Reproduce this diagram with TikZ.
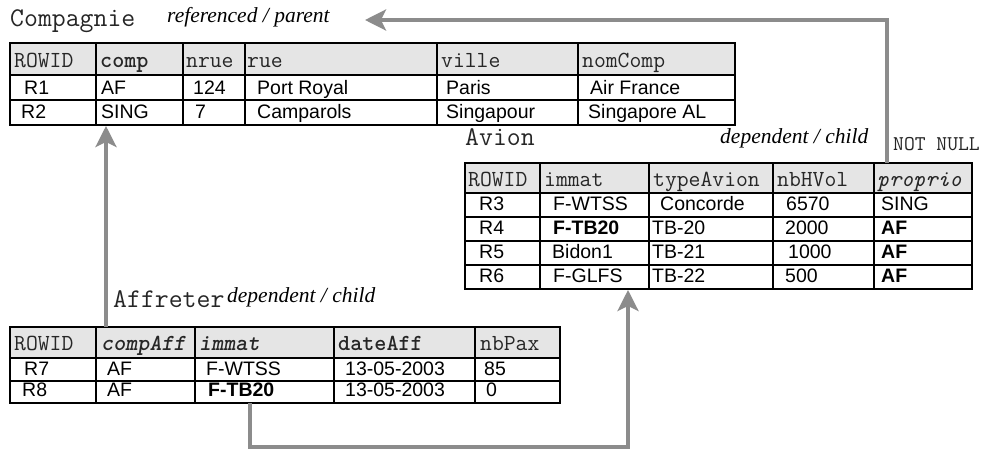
\documentclass[tikz,border=0pt]{standalone}
\usepackage{fontspec}
\setmainfont{Liberation Sans}
\newfontfamily\rolefont{Liberation Serif}
\usetikzlibrary{arrows.meta}
\definecolor{hdgray}{gray}{0.9}
\definecolor{linkgray}{gray}{0.55}
\tikzset{
  hd/.style={anchor=base west, inner sep=0pt, text=black!85, font=\fontsize{23}{24}\ttfamily},
  dat/.style={anchor=base west, inner sep=0pt, font=\fontsize{19.5}{20}\selectfont},
  ttl/.style={anchor=base west, inner sep=0pt, text=black!85, font=\fontsize{27}{28}\ttfamily},
  role/.style={anchor=base west, inner sep=0pt, font=\fontsize{21.5}{24}\rolefont\itshape},
  tab/.style={line width=1.4pt},
  link/.style={draw=linkgray, line width=3.5pt, -{Stealth[length=21pt,width=21pt,inset=5pt]}}
}
\begin{document}
\begin{tikzpicture}[x=1pt,y=-1pt]
				\fill[white] (0,0) rectangle (990,450);
				\useasboundingbox (0,0) rectangle (990,450);
				
				% Compagnie
				\fill[hdgray] (10,43) rectangle (735,75);
				\draw[tab] (10,43) rectangle (735,125);
				\draw[tab] (10,75) -- (735,75);
				\draw[tab] (10,100) -- (735,100);
				\foreach \x in {96,183,245,437,578}
					\draw[tab] (\x,43) -- (\x,125);
				
				\node[ttl] (cpTitle) at (10,26) {Compagnie};
				\node[role] (cpRole) at (167,22) {referenced / parent};
				
				\node[hd] (cpH1) at (14,67) {ROWID};
				\node[hd] (cpH2) at (100,67) {\bfseries comp};
				\node[hd] (cpH3) at (186,67) {nrue};
				\node[hd] (cpH4) at (247,67) {rue};
				\node[hd] (cpH5) at (441,67) {ville};
				\node[hd] (cpH6) at (582,67) {nomComp};
				
				\node[dat] (cp11) at (24,94) {R1};
				\node[dat] (cp12) at (101,94) {AF};
				\node[dat] (cp13) at (193,94) {124};
				\node[dat] (cp14) at (257,94) {Port Royal};
				\node[dat] (cp15) at (446,94) {Paris};
				\node[dat] (cp16) at (590,94) {Air France};
				
				\node[dat] (cp21) at (21,118) {R2};
				\node[dat] (cp22) at (101,118) {SING};
				\node[dat] (cp23) at (195,118) {7};
				\node[dat] (cp24) at (257,118) {Camparols};
				\node[dat] (cp25) at (446,118) {Singapour};
				\node[dat] (cp26) at (588,118) {Singapore AL};
				
				% Avion
				\fill[hdgray] (465,163) rectangle (972,193);
				\draw[tab] (465,163) rectangle (972,289);
				\foreach \y in {193,217,241,265}
					\draw[tab] (465,\y) -- (972,\y);
				\foreach \x in {540,649,773,874}
					\draw[tab] (\x,163) -- (\x,289);
				
				\node[ttl] (avTitle) at (465,145) {Avion};
				\node[role] (avRole) at (720,143) {dependent / child};
				\node[hd, font=\fontsize{21}{22}\ttfamily] (avNotNull) at (893,150) {NOT NULL};
				
				\node[hd] (avH1) at (468,186) {ROWID};
				\node[hd] (avH2) at (544,186) {immat};
				\node[hd] (avH3) at (653,186) {typeAvion};
				\node[hd] (avH4) at (777,186) {nbHVol};
				\node[hd] (avH5) at (877,186) {\itshape proprio};
				
				\node[dat] (av11) at (479,210) {R3};
				\node[dat] (av12) at (553,210) {F-WTSS};
				\node[dat] (av13) at (660,210) {Concorde};
				\node[dat] (av14) at (786,210) {6570};
				\node[dat] (av15) at (881,210) {SING};
				
				\node[dat] (av21) at (479,234) {R4};
				\node[dat] (av22) at (553,234) {\bfseries F-TB20};
				\node[dat] (av23) at (652,234) {TB-20};
				\node[dat] (av24) at (785,234) {2000};
				\node[dat] (av25) at (881,234) {\bfseries AF};
				
				\node[dat] (av31) at (479,258) {R5};
				\node[dat] (av32) at (552,258) {Bidon1};
				\node[dat] (av33) at (652,258) {TB-21};
				\node[dat] (av34) at (788,258) {1000};
				\node[dat] (av35) at (881,258) {\bfseries AF};
				
				\node[dat] (av41) at (479,282) {R6};
				\node[dat] (av42) at (553,282) {F-GLFS};
				\node[dat] (av43) at (652,282) {TB-22};
				\node[dat] (av44) at (785,282) {500};
				\node[dat] (av45) at (881,282) {\bfseries AF};
				
				% Affreter
				\fill[hdgray] (10,327) rectangle (560,358);
				\draw[tab] (10,327) rectangle (560,403);
				\draw[tab] (10,358) -- (560,358);
				\draw[tab] (10,381) -- (560,381);
				\foreach \x in {96,195,334,475}
					\draw[tab] (\x,327) -- (\x,403);
				
				\node[ttl] (afTitle) at (113,307) {Affreter};
				\node[role] (afRole) at (227,302) {dependent / child};
				
				\node[hd] (afH1) at (14,350) {ROWID};
				\node[hd] (afH2) at (101,350) {\bfseries\itshape compAff};
				\node[hd] (afH3) at (199,350) {\bfseries\itshape immat};
				\node[hd] (afH4) at (338,350) {\bfseries dateAff};
				\node[hd] (afH5) at (480,350) {nbPax};
				
				\node[dat] (af11) at (24,375) {R7};
				\node[dat] (af12) at (107,375) {AF};
				\node[dat] (af13) at (206,375) {F-WTSS};
				\node[dat] (af14) at (345,375) {13-05-2003};
				\node[dat] (af15) at (484,375) {85};
				
				\node[dat] (af21) at (22,396) {R8};
				\node[dat] (af22) at (107,396) {AF};
				\node[dat] (af23) at (208,396) {\bfseries F-TB20};
				\node[dat] (af24) at (345,396) {13-05-2003};
				\node[dat] (af25) at (486,396) {0};
				
				% foreign keys
				\coordinate (afComp) at (106,327);
				\coordinate (cpComp) at (106,126);
				\coordinate (afImmat) at (250,403);
				\coordinate (avImmat) at (628,290);
				\coordinate (avProprio) at (887,163);
				\coordinate (cpLink) at (365,20);
				
				\draw[link] (afComp) -- (cpComp);
				\draw[link] (afImmat) -- ++(0,44) -| (avImmat);
				\draw[link] (avProprio) |- (cpLink);
\end{tikzpicture}
\end{document}
